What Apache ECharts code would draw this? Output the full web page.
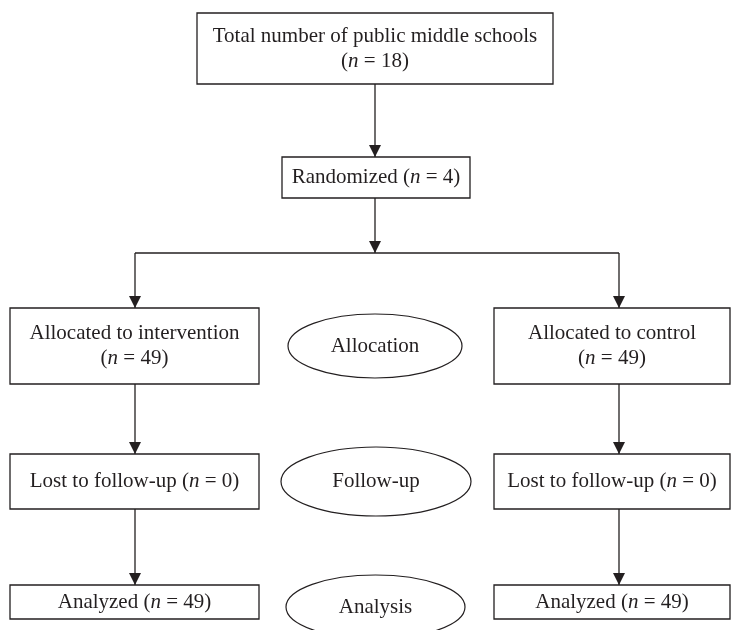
<!DOCTYPE html>
<html>
<head>
<meta charset="utf-8">
<script src="https://cdn.jsdelivr.net/npm/echarts@6/dist/echarts.min.js"></script>
<style>
  html, body { margin: 0; padding: 0; background: #fff; }
  #chart { width: 732px; height: 630px; }
</style>
</head>
<body>
<div id="chart"></div>
<script>
// box texts ({i|..} = italic)
var boxText = [
  'Total number of public middle schools\n({i|n} = 18)',
  'Randomized ({i|n} = 4)',
  'Allocated to intervention\n({i|n} = 49)',
  'Allocated to control\n({i|n} = 49)',
  'Lost to follow-up ({i|n} = 0)',
  'Lost to follow-up ({i|n} = 0)',
  'Analyzed ({i|n} = 49)',
  'Analyzed ({i|n} = 49)'
];
var boxLeft   = [197, 282,  10, 494,  10, 494,  10, 494];
var boxTop    = [ 13, 157, 308, 308, 454, 454, 585, 585];
var boxRight  = [553, 470, 259, 730, 259, 730, 259, 730];
var boxBottom = [ 84, 198, 384, 384, 509, 509, 619, 619];

// stage ellipses in the middle
var stageText = ['Allocation', 'Follow-up', 'Analysis'];
var stageCx = [375, 376, 375.5];
var stageCy = [346, 481.5, 607];
var stageRx = [87, 95, 89.5];
var stageRy = [32, 34.5, 32];

// connectors
var linkFrom = [[375, 84], [375, 198], [135, 253], [135, 253], [619, 253], [135, 384], [619, 384], [135, 509], [619, 509]];
var linkTo   = [[375, 157], [375, 253], [619, 253], [135, 308], [619, 308], [135, 454], [619, 454], [135, 585], [619, 585]];
var linkArrow = [1, 1, 0, 1, 1, 1, 1, 1, 1];

var INK = '#231f20';
var FONT = 'Liberation Serif, Times New Roman, serif';

var chart = echarts.init(document.getElementById('chart'));

var boxData = boxLeft.map(function (l, i) { return [l, boxTop[i], boxRight[i], boxBottom[i]]; });
var stageData = stageCx.map(function (x, i) { return [x, stageCy[i], stageRx[i], stageRy[i]]; });
var linkData = linkFrom.map(function (p, i) { return [p[0], p[1], linkTo[i][0], linkTo[i][1], linkArrow[i]]; });

function textStyle(txt, x, y) {
  return {
    text: txt, x: x, y: y,
    align: 'center', verticalAlign: 'middle',
    fontFamily: FONT, fontSize: 21, lineHeight: 25, fill: INK,
    rich: {
      i: { fontFamily: FONT, fontSize: 21, fontStyle: 'italic', fill: INK, lineHeight: 25 }
    }
  };
}

chart.setOption({
  animation: false,
  grid: { left: 0, right: 0, top: 0, bottom: 0 },
  xAxis: { type: 'value', min: 0, max: 732, show: false },
  yAxis: { type: 'value', min: 0, max: 630, inverse: true, show: false },
  series: [
    {
      type: 'custom',
      name: 'links',
      data: linkData,
      encode: { x: [0, 2], y: [1, 3] },
      clip: false,
      renderItem: function (params, api) {
        var a = api.coord([api.value(0), api.value(1)]);
        var b = api.coord([api.value(2), api.value(3)]);
        var kids = [{
          type: 'line',
          shape: { x1: a[0], y1: a[1], x2: b[0], y2: b[1] },
          style: { stroke: INK, lineWidth: 1.3 }
        }];
        if (api.value(4)) {
          var dx = b[0] - a[0], dy = b[1] - a[1];
          var len = Math.sqrt(dx * dx + dy * dy);
          var ux = dx / len, uy = dy / len;
          var L = 12, hw = 6;
          var bx = b[0] - ux * L, by = b[1] - uy * L;
          kids.push({
            type: 'polygon',
            shape: { points: [[b[0], b[1]], [bx - uy * hw, by + ux * hw], [bx + uy * hw, by - ux * hw]] },
            style: { fill: INK }
          });
        }
        return { type: 'group', children: kids };
      }
    },
    {
      type: 'custom',
      name: 'boxes',
      data: boxData,
      encode: { x: [0, 2], y: [1, 3] },
      clip: false,
      renderItem: function (params, api) {
        var p0 = api.coord([api.value(0), api.value(1)]);
        var p1 = api.coord([api.value(2), api.value(3)]);
        return {
          type: 'group',
          children: [
            {
              type: 'rect',
              shape: { x: p0[0], y: p0[1], width: p1[0] - p0[0], height: p1[1] - p0[1] },
              style: { fill: '#fff', stroke: INK, lineWidth: 1.3 }
            },
            {
              type: 'text',
              style: textStyle(boxText[params.dataIndex], (p0[0] + p1[0]) / 2, (p0[1] + p1[1]) / 2)
            }
          ]
        };
      }
    },
    {
      type: 'custom',
      name: 'stages',
      data: stageData,
      encode: { x: 0, y: 1 },
      clip: false,
      renderItem: function (params, api) {
        var c = api.coord([api.value(0), api.value(1)]);
        var s = api.size([api.value(2), api.value(3)]);
        return {
          type: 'group',
          children: [
            {
              type: 'ellipse',
              shape: { cx: c[0], cy: c[1], rx: s[0], ry: s[1] },
              style: { fill: '#fff', stroke: INK, lineWidth: 1.2 }
            },
            {
              type: 'text',
              style: textStyle(stageText[params.dataIndex], c[0], c[1])
            }
          ]
        };
      }
    }
  ]
});
</script>
</body>
</html>
